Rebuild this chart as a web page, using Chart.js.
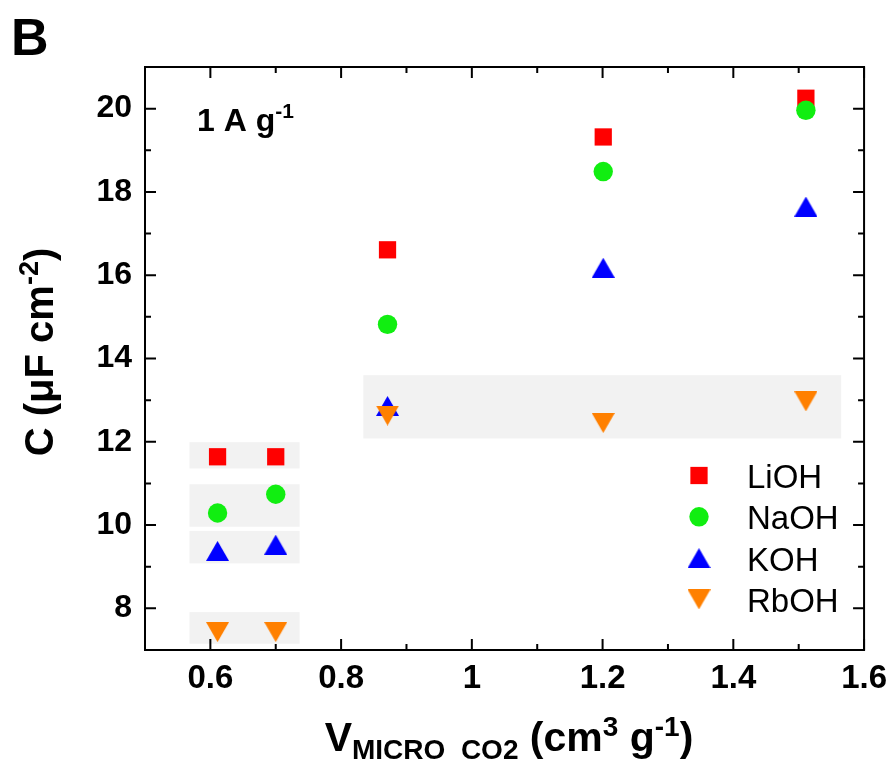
<!DOCTYPE html>
<html><head><meta charset="utf-8">
<script src="https://cdn.jsdelivr.net/npm/chart.js@4.4.0/dist/chart.umd.min.js"></script>
<style>html,body{margin:0;padding:0;background:#fff;}canvas{display:block;}</style>
</head><body>
<canvas id="c" width="896" height="769"></canvas>
<script>
// ---------- data ----------
const xValues = [0.611, 0.700, 0.871, 1.201, 1.511];
const seriesNames = ['LiOH', 'NaOH', 'KOH', 'RbOH'];
const liohValues = [11.64, 11.64, 16.61, 19.32, 20.25];
const naohValues = [10.29, 10.74, 14.82, 18.49, 19.96];
const kohValues  = [9.38, 9.53, 12.86, 16.18, 17.65];
const rbohValues = [7.43, 7.43, 12.63, 12.45, 12.97];
const xTicks = [0.6, 0.8, 1.0, 1.2, 1.4, 1.6];
const xTickLabels = ['0.6', '0.8', '1', '1.2', '1.4', '1.6'];
const xMinorTicks = [0.7, 0.9, 1.1, 1.3, 1.5];
const yTicks = [8, 10, 12, 14, 16, 18, 20];
const yTickLabels = ['8', '10', '12', '14', '16', '18', '20'];
const yMinorTicks = [9, 11, 13, 15, 17, 19];
// shaded groups: [xStart, xEnd, yStart, yEnd] in data units
const shadeBoxes = [
  [0.568, 0.7365, 11.36, 11.99],
  [0.568, 0.7365, 9.96, 10.98],
  [0.568, 0.7365, 9.08, 9.86],
  [0.568, 0.7365, 7.15, 7.91],
  [0.834, 1.565, 12.08, 13.60]
];

// ---------- styles ----------
const FONT = '"Liberation Sans", Arial, Helvetica, sans-serif';
const colors = ['#ff0000', '#11ee11', '#0000ff', '#ff8000'];

function makeTriangle(color, up, w, h) {
  const c = document.createElement('canvas');
  c.width = w; c.height = h;
  const g = c.getContext('2d');
  g.fillStyle = color;
  g.beginPath();
  if (up) { g.moveTo(w / 2, 0); g.lineTo(w, h); g.lineTo(0, h); }
  else { g.moveTo(0, 0); g.lineTo(w, 0); g.lineTo(w / 2, h); }
  g.closePath();
  g.fill();
  return c;
}
const triUp = makeTriangle(colors[2], true, 23, 20);
const triDown = makeTriangle(colors[3], false, 23, 20);

const pointStyles = ['rect', 'circle', triUp, triDown];
const pointRadii = [12.2, 9.7, 12, 12];
const seriesValues = [liohValues, naohValues, kohValues, rbohValues];
const drawOrder = [4, 3, 2, 1];

const datasets = seriesNames.map((name, i) => ({
  label: name,
  data: xValues.map((x, j) => ({ x: x, y: seriesValues[i][j] })),
  pointStyle: pointStyles[i],
  pointRadius: pointRadii[i],
  backgroundColor: colors[i],
  borderColor: colors[i],
  borderWidth: 0,
  showLine: false,
  order: drawOrder[i],
  clip: false
}));

function drawRich(ctx, parts, x, y, align) {
  let total = 0;
  parts.forEach(p => { ctx.font = (p.w || 'bold') + ' ' + p.s + 'px ' + FONT; p.width = ctx.measureText(p.t).width; total += p.width; });
  let cx = align === 'center' ? x - total / 2 : x;
  ctx.textAlign = 'left';
  ctx.textBaseline = 'alphabetic';
  parts.forEach(p => {
    ctx.font = (p.w || 'bold') + ' ' + p.s + 'px ' + FONT;
    ctx.fillText(p.t, cx, y + (p.dy || 0));
    cx += p.width;
  });
}

const decor = {
  id: 'decor',
  beforeDatasetsDraw(chart) {
    const { ctx, scales: { x: xs, y: ys } } = chart;
    ctx.save();
    ctx.fillStyle = '#f2f2f2';
    shadeBoxes.forEach(b => {
      const x0 = xs.getPixelForValue(b[0]), x1 = xs.getPixelForValue(b[1]);
      const y0 = ys.getPixelForValue(b[3]), y1 = ys.getPixelForValue(b[2]);
      ctx.fillRect(x0, y0, x1 - x0, y1 - y0);
    });
    ctx.restore();
  },
  afterDatasetsDraw(chart) {
    const { ctx, chartArea: a, scales: { x: xs, y: ys } } = chart;
    ctx.save();
    ctx.strokeStyle = '#000';
    ctx.lineWidth = 2;
    ctx.beginPath();
    const tick = (vals, len) => {
      vals.forEach(v => {
        const px = xs.getPixelForValue(v);
        ctx.moveTo(px, a.bottom); ctx.lineTo(px, a.bottom - len);
        ctx.moveTo(px, a.top); ctx.lineTo(px, a.top + len);
      });
    };
    const tickY = (vals, len) => {
      vals.forEach(v => {
        const py = ys.getPixelForValue(v);
        ctx.moveTo(a.left, py); ctx.lineTo(a.left + len, py);
        ctx.moveTo(a.right, py); ctx.lineTo(a.right - len, py);
      });
    };
    tick(xTicks, 11); tick(xMinorTicks, 6);
    tickY(yTicks, 11); tickY(yMinorTicks, 6);
    ctx.stroke();
    ctx.strokeRect(a.left, a.top, a.right - a.left, a.bottom - a.top);
    ctx.restore();
  },
  afterDraw(chart) {
    const { ctx } = chart;
    ctx.save();
    ctx.fillStyle = '#000';
    // panel letter
    drawRich(ctx, [{ t: 'B', s: 52 }], 11, 55, 'left');
    // current density annotation
    drawRich(ctx, [{ t: '1 A g', s: 32 }, { t: '-1', s: 21, dy: -13 }], 197, 131, 'left');
    // x title
    drawRich(ctx, [
      { t: 'V', s: 41 },
      { t: 'MICRO  CO2', s: 28, dy: 8 },
      { t: ' (cm', s: 41 },
      { t: '3', s: 28, dy: -15 },
      { t: ' g', s: 41 },
      { t: '-1', s: 28, dy: -15 },
      { t: ')', s: 41 }
    ], 509, 751, 'center');
    // y title
    ctx.save();
    ctx.translate(53, 352);
    ctx.rotate(-Math.PI / 2);
    drawRich(ctx, [
      { t: 'C (\u03BCF cm', s: 40 },
      { t: '-2', s: 27, dy: -15 },
      { t: ')', s: 40 }
    ], 0, 0, 'center');
    ctx.restore();
    // legend
    seriesNames.forEach((name, i) => {
      const base = 488 + i * 41.3;
      const my = base - 12.5;
      const mx = 699;
      ctx.fillStyle = colors[i];
      const st = pointStyles[i];
      if (st === 'rect') {
        const s = Math.SQRT1_2 * pointRadii[i];
        ctx.fillRect(mx - s, my - s, 2 * s, 2 * s);
      } else if (st === 'circle') {
        ctx.beginPath(); ctx.arc(mx, my, pointRadii[i], 0, Math.PI * 2); ctx.fill();
      } else {
        ctx.drawImage(st, mx - st.width / 2, my - st.height / 2);
      }
      ctx.fillStyle = '#000';
      drawRich(ctx, [{ t: name, s: 33, w: 'normal' }], 747, base, 'left');
    });
    ctx.restore();
  }
};

new Chart(document.getElementById('c'), {
  type: 'scatter',
  data: { datasets },
  options: {
    responsive: false,
    animation: false,
    events: [],
    layout: { padding: { left: 0, top: 67, right: 28, bottom: 0 } },
    plugins: { legend: { display: false }, tooltip: { enabled: false }, title: { display: false } },
    scales: {
      x: {
        type: 'linear', min: 0.5, max: 1.6,
        grid: { display: false, drawTicks: false },
        border: { display: false },
        afterBuildTicks: s => { s.ticks = xTicks.map(v => ({ value: v })); },
        afterFit: s => { s.height = 119; },
        ticks: {
          autoSkip: false, maxRotation: 0, padding: 9, color: '#000',
          font: { family: FONT, size: 33, weight: 'bold' },
          callback: (v, i) => xTickLabels[i]
        }
      },
      y: {
        type: 'linear', min: 7, max: 21,
        grid: { display: false, drawTicks: false },
        border: { display: false },
        afterBuildTicks: s => { s.ticks = yTicks.map(v => ({ value: v })); },
        afterFit: s => { s.width = 145; },
        ticks: {
          autoSkip: false, padding: 13, color: '#000',
          font: { family: FONT, size: 32, weight: 'bold' },
          callback: (v, i) => yTickLabels[i]
        }
      }
    }
  },
  plugins: [decor]
});
</script>
</body></html>
